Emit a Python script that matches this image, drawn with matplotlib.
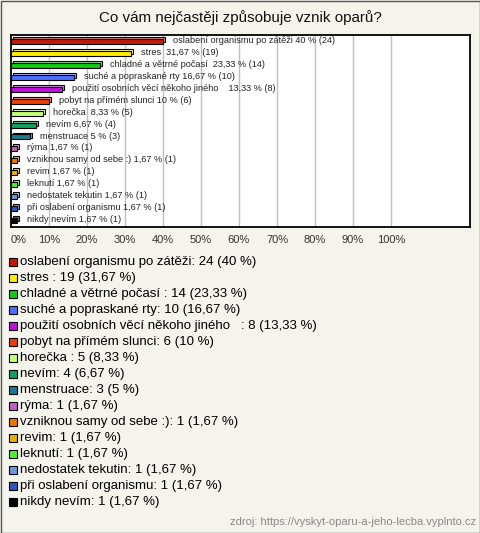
#!/usr/bin/env python3

import matplotlib.pyplot as plt
from matplotlib.patches import Rectangle
from matplotlib.colors import to_rgb

plt.rcParams['font.family'] = ['Liberation Sans', 'DejaVu Sans']

# Data
nazvy = ['oslabení organismu po zátěži', 'stres ', 'chladné a větrné počasí ',
         'suché a popraskané rty', 'použití osobních věcí někoho jiného   ',
         'pobyt na přímém slunci', 'horečka ', 'nevím', 'menstruace', 'rýma',
         'vzniknou samy od sebe :)', 'revim', 'leknutí', 'nedostatek tekutin',
         'při oslabení organismu', 'nikdy nevím']
pocty = [24, 19, 14, 10, 8, 6, 5, 4, 3, 1, 1, 1, 1, 1, 1, 1]
procenta = [40, 31.67, 23.33, 16.67, 13.33, 10, 8.33, 6.67, 5,
            1.67, 1.67, 1.67, 1.67, 1.67, 1.67, 1.67]
barvy = ['#c41a0a', '#ffee00', '#11cc11', '#4d6fff', '#c011dd', '#ee3d0a',
         '#c4ff77', '#11a060', '#1a7a90', '#c060c0', '#ee7700', '#e8b000',
         '#55ee33', '#6d98e0', '#3355bb', '#000000']
ticky = [0, 10, 20, 30, 40, 50, 60, 70, 80, 90, 100]
titulek = 'Co vám nejčastěji způsobuje vznik oparů?'
zdroj = 'zdroj: https://vyskyt-oparu-a-jeho-lecba.vyplnto.cz'


def fmt(v):
    s = f'{v:.2f}'.rstrip('0').rstrip('.')
    return s.replace('.', ',')


W, H = 480, 533
bg = '#f4f3ec'
fig = plt.figure(figsize=(W / 100, H / 100), dpi=100, facecolor=bg)

# Graf
ax = fig.add_axes([11 / W, 1 - 227 / H, (470 - 11) / W, (227 - 35) / H])
ax.set_facecolor('white')
ax.set_xlim(0, 120.8)
ax.set_ylim(len(nazvy) - 0.455, -0.545)
for t in ticky[1:]:
    ax.axvline(t, color='#c0c0c0', linewidth=1, zorder=0)

vyska = 0.42
for i, (n, p, c, b) in enumerate(zip(nazvy, pocty, procenta, barvy)):
    svetla = tuple(0.55 * x + 0.45 for x in to_rgb(b))
    ax.add_patch(Rectangle((0.5, i - vyska / 2 - 0.16), c, vyska,
                           facecolor=svetla, edgecolor='black', linewidth=0.8, zorder=2))
    ax.add_patch(Rectangle((0, i - vyska / 2), c, vyska,
                           facecolor=b, edgecolor='black', linewidth=0.8, zorder=3))
    ax.text(c + 2.6, i - 0.08, f'{n.rstrip() if i in (0, 3, 5) else n} {fmt(c)} % ({p})',
            va='center', ha='left', fontsize=6.6, color='#222222', zorder=4)

ax.set_yticks([])
ax.set_xticks(ticky)
ax.set_xticklabels([f'{t}%' for t in ticky])
ax.tick_params(axis='x', length=0, pad=6, labelsize=8, labelcolor='#333333')
ax.get_xticklabels()[0].set_ha('left')
for s in ax.spines.values():
    s.set_linewidth(1.3)
    s.set_color('black')

fig.text(0.5, 1 - 18 / H, titulek, ha='center', va='center', fontsize=10.9, color='#111111')

# Legenda
lg = fig.add_axes([0, 0, 1, 1], facecolor='none')
lg.set_xlim(0, W)
lg.set_ylim(H, 0)
lg.axis('off')
for i, (n, p, c, b) in enumerate(zip(nazvy, pocty, procenta, barvy)):
    y = 262 + 16 * i
    lg.add_patch(Rectangle((9, y - 4), 7.5, 7.5, facecolor=b,
                           edgecolor='black', linewidth=0.8))
    lg.text(20, y, f'{n}: {p} ({fmt(c)} %)', va='center', ha='left',
            fontsize=9.5, color='black')

lg.text(476, 522, zdroj, ha='right', va='center', fontsize=8, color='#888888')
lg.add_patch(Rectangle((0.5, 0.5), W - 1, H - 1, facecolor='none',
                       edgecolor='#555555', linewidth=1))

fig.savefig('out.png', dpi=100, facecolor=bg)
